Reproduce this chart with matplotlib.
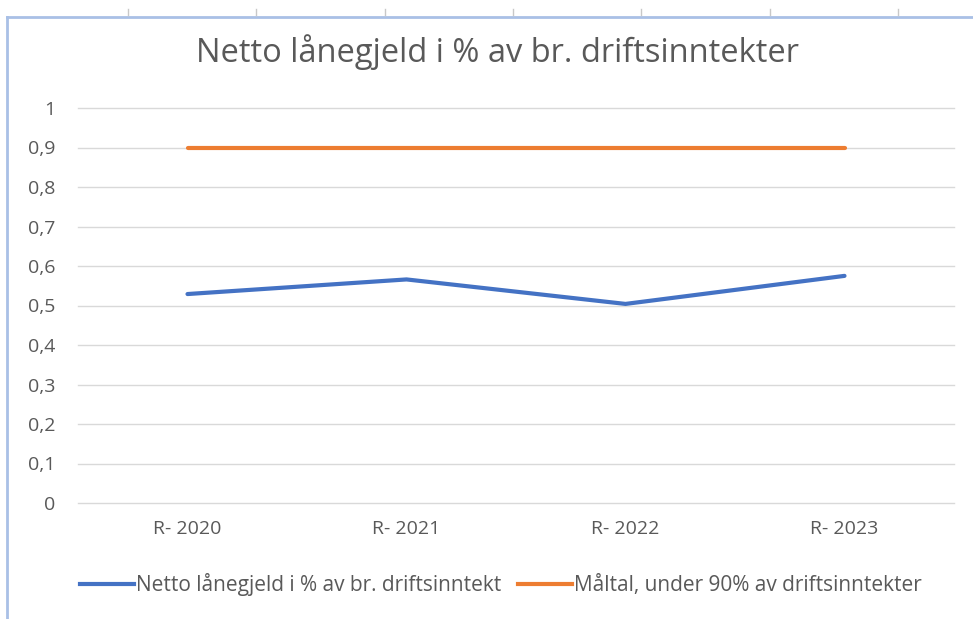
import numpy as np
import matplotlib
matplotlib.use("Agg")
import matplotlib.pyplot as plt
from matplotlib.lines import Line2D

plt.rcParams['font.family'] = ['Open Sans', 'DejaVu Sans']

years = ["R- 2020", "R- 2021", "R- 2022", "R- 2023"]
netto = [0.529, 0.566, 0.504, 0.575]
maltal = [0.9, 0.9, 0.9, 0.9]
yticks = [0, 0.1, 0.2, 0.3, 0.4, 0.5, 0.6, 0.7, 0.8, 0.9, 1]
ylabels = ["0", "0,1", "0,2", "0,3", "0,4", "0,5", "0,6", "0,7", "0,8", "0,9", "1"]

grey = "#595959"
blue = "#4472C4"
orange = "#ED7D31"

fig = plt.figure(figsize=(9.73, 6.19), dpi=100)
ax = fig.add_axes([78 / 973, 1 - 503 / 619, 876 / 973, 395 / 619])

x = np.arange(len(years))
ax.plot(x, netto, color=blue, lw=3, solid_capstyle='round',
        label="Netto lånegjeld i % av br. driftsinntekt")
ax.plot(x, maltal, color=orange, lw=3, solid_capstyle='round',
        label="Måltal, under 90% av driftsinntekter")

ax.set_xlim(-0.5, 3.5)
ax.set_ylim(0, 1)
ax.set_yticks(yticks)
ax.set_yticklabels(ylabels)
ax.set_xticks(x)
ax.set_xticklabels(years)
ax.tick_params(length=0, labelsize=14, colors=grey)
ax.tick_params(axis='y', pad=16.5)
ax.tick_params(axis='x', pad=12)
for s in ax.spines.values():
    s.set_visible(False)
ax.grid(axis='y', color="#D9D9D9", lw=1)
ax.set_axisbelow(True)
for gl in ax.get_ygridlines():
    gl.set_clip_on(False)

fig.text(497 / 973, 1 - 52 / 619, "Netto lånegjeld i % av br. driftsinntekter",
         ha='center', va='center', fontsize=23.5, color=grey)

handles = [Line2D([], [], color=blue, lw=3), Line2D([], [], color=orange, lw=3)]
fig.legend(handles, ["Netto lånegjeld i % av br. driftsinntekt",
                     "Måltal, under 90% av driftsinntekter"],
           loc='center', bbox_to_anchor=(501 / 973, 1 - 585 / 619), ncol=2,
           frameon=False, fontsize=15, labelcolor=grey, handlelength=2.6,
           handletextpad=0.1, columnspacing=0.8)

# sheet frame around the chart
fig.add_artist(Line2D([7 / 973, 1], [1 - 17 / 619, 1 - 17 / 619], color="#A9C0E6", lw=2))
fig.add_artist(Line2D([7 / 973, 7 / 973], [0, 1 - 17 / 619], color="#A9C0E6", lw=2))
for tx in [128, 256, 385, 513, 641, 770, 898]:
    fig.add_artist(Line2D([tx / 973, tx / 973], [1 - 9 / 619, 1 - 15 / 619], color="#C8C8C8", lw=1))

fig.savefig("out.png", dpi=100)
